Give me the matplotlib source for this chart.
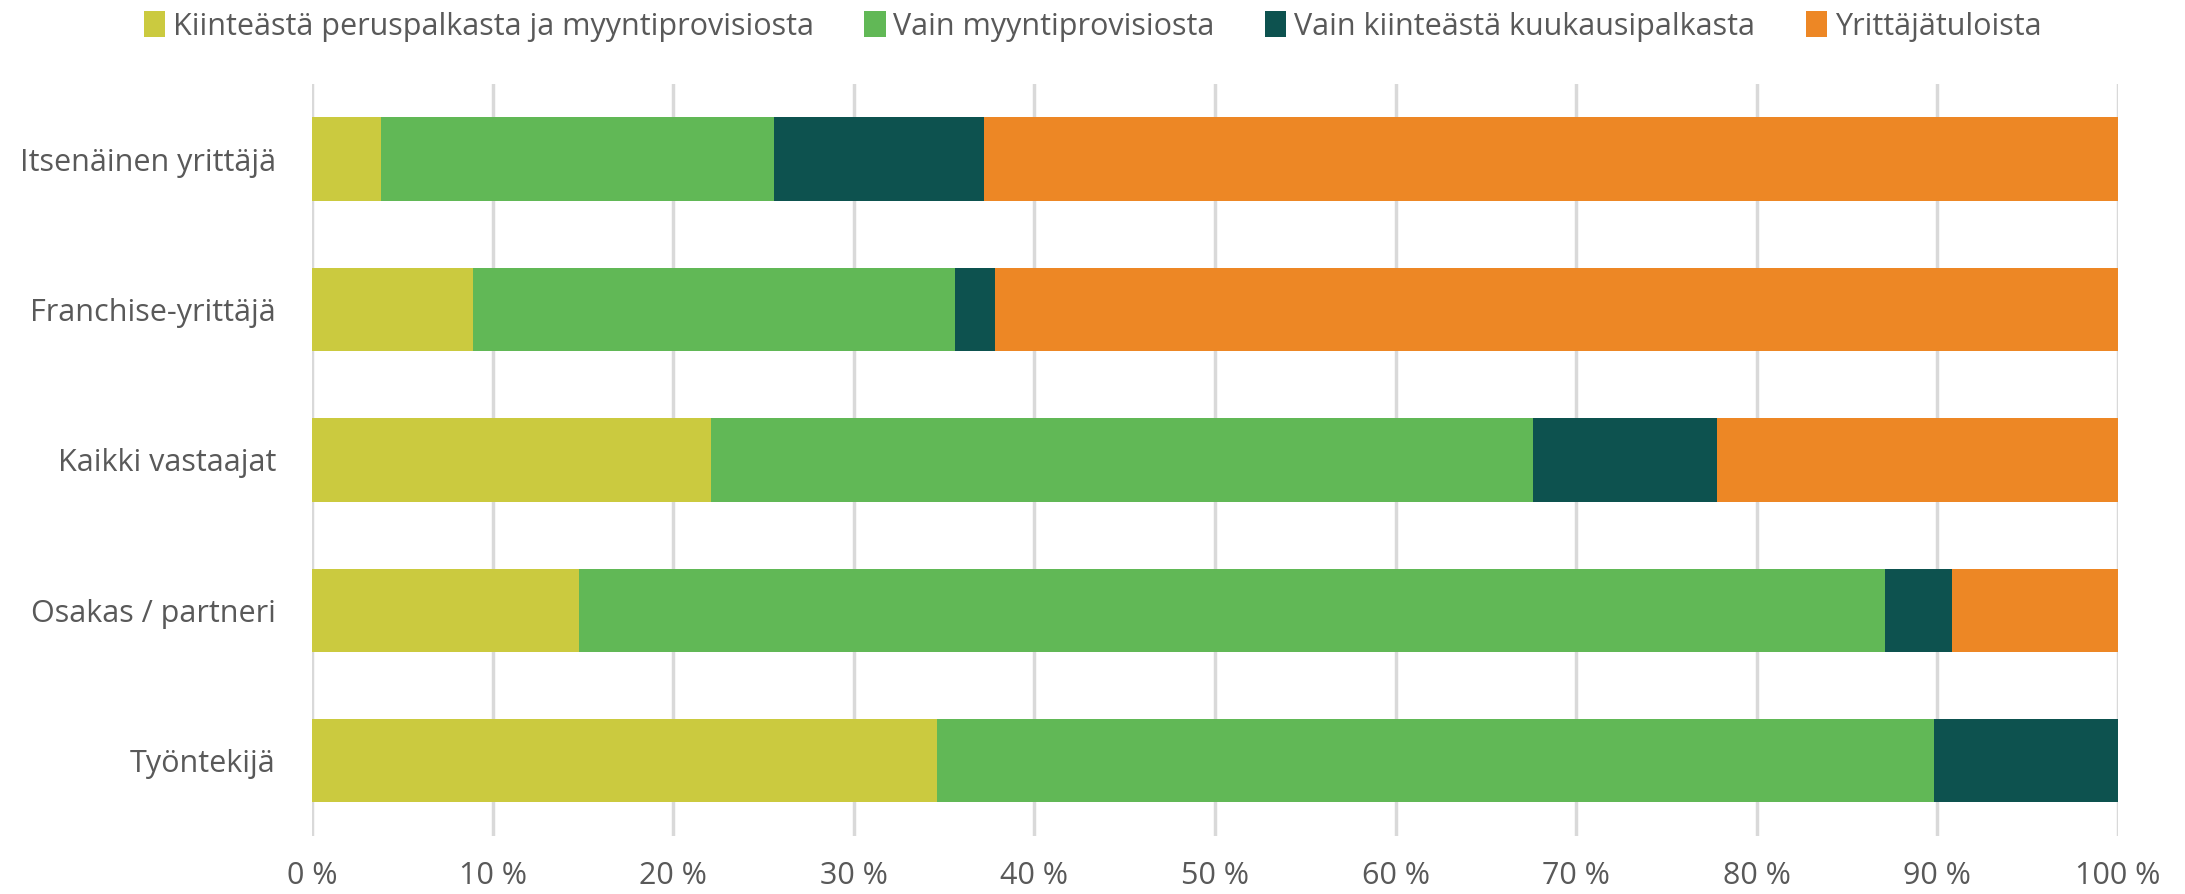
import matplotlib
matplotlib.use("Agg")
import matplotlib.pyplot as plt
from matplotlib.ticker import FuncFormatter

# categories, top to bottom as in the picture
categories = ["Itsenäinen yrittäjä", "Franchise-yrittäjä", "Kaikki vastaajat",
              "Osakas / partneri", "Työntekijä"]

series_names = ["Kiinteästä peruspalkasta ja myyntiprovisiosta",
                "Vain myyntiprovisiosta",
                "Vain kiinteästä kuukausipalkasta",
                "Yrittäjätuloista"]

perus_ja_provisio = [3.8, 8.9, 22.1, 14.8, 34.6]
vain_provisio = [21.8, 26.7, 45.5, 72.3, 55.2]
vain_kuukausipalkka = [11.6, 2.2, 10.2, 3.7, 10.2]
yrittajatulot = [62.8, 62.2, 22.2, 9.2, 0.0]

colors = ["#CBCA3F", "#61B856", "#0D524F", "#ED8725"]

plt.rcParams['font.family'] = ['Open Sans', 'DejaVu Sans']
text_color = "#595959"

fig = plt.figure(figsize=(21.85, 8.94), dpi=100)
ax = fig.add_axes([0.1428, 0.065, 0.8265, 0.841])

ypos = list(range(len(categories)))[::-1]
left = [0.0] * len(categories)
for name, vals, col in zip(series_names,
                           [perus_ja_provisio, vain_provisio, vain_kuukausipalkka, yrittajatulot],
                           colors):
    ax.barh(ypos, vals, left=left, height=0.555, color=col, label=name, zorder=3)
    left = [l + v for l, v in zip(left, vals)]

ax.set_xlim(0, 100)
ax.set_ylim(-0.5, 4.5)
ax.set_xticks(range(0, 101, 10))
ax.xaxis.set_major_formatter(FuncFormatter(lambda v, p: f"{int(v)} %"))
ax.set_yticks(ypos)
ax.set_yticklabels(categories)
ax.tick_params(axis="both", length=0, labelsize=22, colors=text_color)
ax.tick_params(axis="y", pad=26)
ax.tick_params(axis="x", pad=18)
for s in ax.spines.values():
    s.set_visible(False)
ax.grid(axis="x", color="#D9D9D9", linewidth=2.5, zorder=0)

leg = fig.legend(loc="upper center", bbox_to_anchor=(0.5, 1.018), ncol=4, frameon=False,
                 fontsize=22, handlelength=0.7, handleheight=0.9, handletextpad=0.25,
                 columnspacing=1.65, labelcolor=text_color)

fig.savefig("out.png", dpi=100)
